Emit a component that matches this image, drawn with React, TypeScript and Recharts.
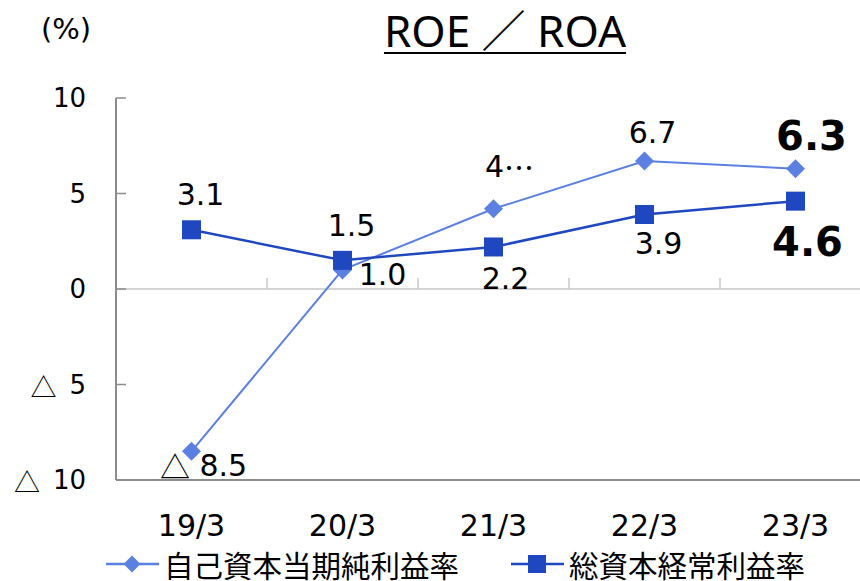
import React from "react";
import {
  LabelList,
  Legend,
  Line,
  LineChart,
  ReferenceLine,
  XAxis,
  YAxis,
} from "recharts";

// values
const periods = ["19/3", "20/3", "21/3", "22/3", "23/3"];
const roe = [-8.5, 1.0, 4.2, 6.7, 6.3];
const roa = [3.1, 1.5, 2.2, 3.9, 4.6];
const roeLabels = ["△ 8.5", "1.0", "4…", "6.7", "6.3"];
const roaLabels = ["3.1", "1.5", "2.2", "3.9", "4.6"];
const yTicks = [-10, -5, 0, 5, 10];

const ROE_NAME = "自己資本当期純利益率";
const ROA_NAME = "総資本経常利益率";

const ROE_COLOR = "#5b80e2";
const ROA_COLOR = "#1f47bf";
const FRAME = "#8c8c8c";
const NUM_FONT = "'DejaVu Sans', 'Noto Sans CJK JP', sans-serif";
const JP_FONT = "'Noto Sans CJK JP', 'Noto Sans', sans-serif";

// label placement relative to each point (dx, dy)
const roeOffsets = [
  [12, 14],
  [40, 4],
  [16, -43],
  [8, -29],
  [16, -33],
];
const roaOffsets = [
  [9, -36],
  [9, -35],
  [12, 31],
  [14, 28],
  [12, 41],
];

const data = periods.map((p, i) => ({ period: p, roe: roe[i], roa: roa[i] }));

// △ (minus sign) and … are drawn with the CJK face, as in the source
function jpMarks(text: string) {
  const parts = text.split(/([△…])/).filter((s) => s !== "");
  return parts.map((s, i) =>
    /[△…]/.test(s) ? (
      <tspan key={i} fontFamily={JP_FONT}>
        {s}
      </tspan>
    ) : (
      <tspan key={i}>{s}</tspan>
    ),
  );
}

function makeLabel(texts: string[], offsets: number[][]) {
  return (props: any) => {
    const { x, y, index } = props;
    const last = index === texts.length - 1;
    const [dx, dy] = offsets[index];
    return (
      <text
        x={x + dx}
        y={y + dy}
        textAnchor="middle"
        dominantBaseline="central"
        fontFamily={NUM_FONT}
        fontSize={last ? 40 : 30}
        fontWeight={last ? 700 : 400}
        fill="#000"
      >
        {jpMarks(texts[index])}
      </text>
    );
  };
}

function Diamond({ cx, cy, r = 9.5 }: { cx: number; cy: number; r?: number }) {
  return (
    <polygon
      points={`${cx},${cy - r} ${cx + r},${cy} ${cx},${cy + r} ${cx - r},${cy}`}
      fill={ROE_COLOR}
    />
  );
}

function Square({ cx, cy, s = 19 }: { cx: number; cy: number; s?: number }) {
  return <rect x={cx - s / 2} y={cy - s / 2} width={s} height={s} fill={ROA_COLOR} />;
}

const fmtY = (v: number) => (v < 0 ? `△\u2002${Math.abs(v)}` : `${v}`);

function YTick(props: any) {
  const { x, y, payload } = props;
  return (
    <text
      x={x}
      y={y}
      textAnchor="end"
      dominantBaseline="central"
      fontFamily={NUM_FONT}
      fontSize={26}
      fill="#000"
    >
      {jpMarks(fmtY(payload.value))}
    </text>
  );
}

// zero line with small boundary ticks between the categories
function ZeroLine(props: any) {
  const { x1, y1, x2, y2 } = props;
  const n = periods.length;
  const step = (x2 - x1) / n;
  return (
    <g>
      <line x1={x1} y1={y1} x2={x2} y2={y2} stroke="#d4d4d4" strokeWidth={2} />
      {periods.slice(1).map((_, i) => (
        <line
          key={i}
          x1={x1 + step * (i + 1)}
          x2={x1 + step * (i + 1)}
          y1={y1}
          y2={y1 - 11}
          stroke="#c8c8c8"
          strokeWidth={1.5}
        />
      ))}
    </g>
  );
}

function LegendBox() {
  const item = (name: string, color: string, marker: React.ReactNode, gap: number) => (
    <div style={{ display: "flex", alignItems: "center", marginRight: gap }}>
      <svg width={53} height={24} style={{ marginRight: 5 }}>
        <line x1={0} x2={53} y1={12} y2={12} stroke={color} strokeWidth={2.5} />
        {marker}
      </svg>
      <span style={{ fontFamily: JP_FONT, fontSize: 29.5, color: "#000", lineHeight: "30px" }}>
        {name}
      </span>
    </div>
  );
  return (
    <div style={{ display: "flex", alignItems: "center", paddingLeft: 106 }}>
      {item(ROE_NAME, ROE_COLOR, <Diamond cx={26} cy={12} r={8.5} />, 52)}
      {item(ROA_NAME, ROA_COLOR, <Square cx={26} cy={12} s={18} />, 0)}
    </div>
  );
}

export default function App() {
  return (
    <div
      style={{
        position: "absolute",
        left: 0,
        top: 0,
        width: 860,
        height: 581,
        overflow: "hidden",
        background: "#fff",
      }}
    >
      <div
        style={{
          position: "absolute",
          left: 41,
          top: 12,
          fontFamily: NUM_FONT,
          fontSize: 29,
          color: "#000",
        }}
      >
        (%)
      </div>
      <div
        style={{
          position: "absolute",
          left: 300,
          width: 410,
          top: -4,
          textAlign: "center",
          fontFamily: "'Noto Sans', 'Noto Sans CJK JP', sans-serif",
          fontSize: 44,
          color: "#000",
          textDecoration: "underline",
          textDecorationThickness: 2,
          textUnderlineOffset: 5,
        }}
      >
        ROE ／ ROA
      </div>
      <LineChart
        width={880}
        height={581}
        data={data}
        margin={{ top: 98, right: 9, bottom: 0, left: 0 }}
      >
        <XAxis
          xAxisId="top"
          orientation="top"
          dataKey="period"
          scale="band"
          height={0}
          tick={false}
          tickLine={false}
          axisLine={{ stroke: FRAME, strokeWidth: 2 }}
        />
        <XAxis
          dataKey="period"
          scale="band"
          height={101}
          tickSize={0}
          tickMargin={35}
          tickLine={false}
          axisLine={{ stroke: FRAME, strokeWidth: 2 }}
          tick={{ fontFamily: NUM_FONT, fontSize: 30, fill: "#000" }}
        />
        <YAxis
          width={116}
          domain={[-10, 10]}
          ticks={yTicks}
          interval={0}
          tickSize={-10}
          tickMargin={40}
          tickLine={{ stroke: FRAME, strokeWidth: 1.5 }}
          axisLine={{ stroke: FRAME, strokeWidth: 2 }}
          tick={YTick}
        />
        <ReferenceLine y={0} shape={ZeroLine} />
        <Line
          dataKey="roe"
          name={ROE_NAME}
          stroke={ROE_COLOR}
          strokeWidth={2}
          isAnimationActive={false}
          dot={(p: any) => <Diamond key={p.index} cx={p.cx} cy={p.cy} />}
          activeDot={false}
        >
          <LabelList dataKey="roe" content={makeLabel(roeLabels, roeOffsets)} />
        </Line>
        <Line
          dataKey="roa"
          name={ROA_NAME}
          stroke={ROA_COLOR}
          strokeWidth={2.5}
          isAnimationActive={false}
          dot={(p: any) => <Square key={p.index} cx={p.cx} cy={p.cy} />}
          activeDot={false}
        >
          <LabelList dataKey="roa" content={makeLabel(roaLabels, roaOffsets)} />
        </Line>
        <Legend
          verticalAlign="middle"
          align="center"
          content={<LegendBox />}
          wrapperStyle={{ top: 549, left: 0, width: 860, height: 30 }}
        />
      </LineChart>
    </div>
  );
}
